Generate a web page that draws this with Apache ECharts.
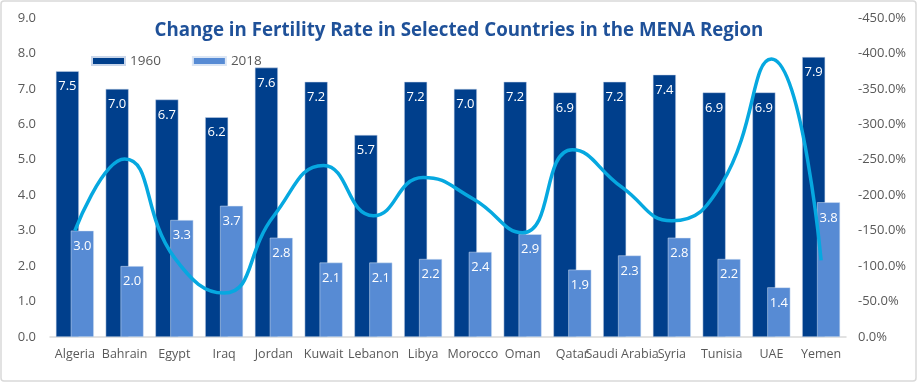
<!DOCTYPE html>
<html>
<head>
<meta charset="utf-8">
<script src="https://cdn.jsdelivr.net/npm/echarts@6/dist/echarts.min.js"></script>
<style>
html,body{margin:0;padding:0;background:#fff;}
#c{width:918px;height:383px;}
</style>
</head>
<body>
<div id="c"></div>
<script>
const categories = ['Algeria','Bahrain','Egypt','Iraq','Jordan','Kuwait','Lebanon','Libya','Morocco','Oman','Qatar','Saudi Arabia','Syria','Tunisia','UAE','Yemen'];
const rate1960 = [7.5,7.0,6.7,6.2,7.6,7.2,5.7,7.2,7.0,7.2,6.9,7.2,7.4,6.9,6.9,7.9];
const rate2018 = [3.0,2.0,3.3,3.7,2.8,2.1,2.1,2.2,2.4,2.9,1.9,2.3,2.8,2.2,1.4,3.8];
const changePct = [-150,-251,-112,-62,-171,-242,-171,-225,-195,-147,-264,-211,-164,-216,-392,-108];
const leftTicks = {min:0, max:9, interval:1};
const rightTicks = {min:-450, max:0, interval:50};

const chart = echarts.init(document.getElementById('c'));
const FONT = 'Open Sans';
const barLabel = {show:true, position:'insideTop', distance:9, color:'#ffffff', fontSize:13, fontFamily:FONT, formatter:p=>p.value.toFixed(1)};
chart.setOption({
  animation:false,
  textStyle:{fontFamily:FONT},
  graphic:[{type:'rect', shape:{x:1,y:1,width:915,height:380,r:3}, style:{fill:'none',stroke:'#d9d9d9',lineWidth:1.5}, silent:true}],
  title:{text:'Change in Fertility Rate in Selected Countries in the MENA Region', left:'center', top:16,
    textStyle:{fontFamily:FONT, fontWeight:'bold', fontSize:18.7, color:'#1f5199'}},
  legend:{data:['1960','2018'], left:86, top:49, itemWidth:33, itemHeight:8, itemGap:31, icon:'rect',
    textStyle:{fontFamily:FONT, fontSize:13.5, color:'#595959'}},
  grid:{left:50, right:72, top:18, bottom:46},
  xAxis:{type:'category', data:categories,
    axisLine:{lineStyle:{color:'#d9d9d9', width:1.5}}, axisTick:{show:false},
    axisLabel:{interval:0, color:'#595959', fontSize:12.5, fontFamily:FONT, margin:11}},
  yAxis:[
    {type:'value', min:leftTicks.min, max:leftTicks.max, interval:leftTicks.interval, splitLine:{show:false},
     axisLabel:{color:'#595959', fontSize:13, fontFamily:FONT, margin:14, formatter:v=>v.toFixed(1)}},
    {type:'value', min:rightTicks.min, max:rightTicks.max, interval:rightTicks.interval, inverse:true, splitLine:{show:false},
     axisLabel:{color:'#595959', fontSize:13, fontFamily:FONT, margin:12, formatter:v=>v.toFixed(1)+'%'}}
  ],
  series:[
    {name:'1960', type:'bar', data:rate1960, barWidth:23, barGap:'-35%', itemStyle:{color:'#003f8c', borderColor:'#c9d6ea', borderWidth:0.5}, label:barLabel},
    {name:'2018', type:'bar', data:rate2018, barWidth:23, itemStyle:{color:'#578bd4', borderColor:'#dbe6f5', borderWidth:0.5}, label:barLabel},
    {name:'Change', type:'line', yAxisIndex:1, data:changePct, smooth:0.5, symbol:'none',
     lineStyle:{color:'#06a8e0', width:3.5}, z:5}
  ]
});
</script>
</body>
</html>
